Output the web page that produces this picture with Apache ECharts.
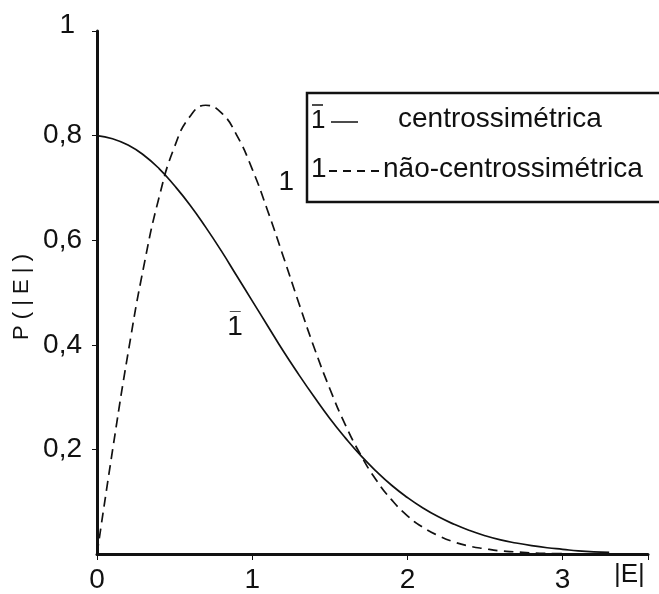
<!DOCTYPE html>
<html>
<head>
<meta charset="utf-8">
<script src="https://cdn.jsdelivr.net/npm/echarts@6/dist/echarts.min.js"></script>
<style>
  html, body { margin: 0; padding: 0; background: #fff; }
  #chart { width: 659px; height: 594px; }
</style>
</head>
<body>
<div id="chart"></div>
<script>
// |E| values sampled along the x axis
var eValues = [0, 0.1, 0.2, 0.3, 0.4, 0.5, 0.6, 0.7, 0.8, 0.9, 1.0, 1.1, 1.2, 1.3, 1.4, 1.5, 1.6, 1.7,
  1.8, 1.9, 2.0, 2.1, 2.2, 2.3, 2.4, 2.5, 2.6, 2.7, 2.8, 2.9, 3.0, 3.1, 3.2, 3.3];
// solid curve (1-bar, centrossimétrica)
var centro = [0.800, 0.794, 0.782, 0.763, 0.737, 0.704, 0.667, 0.625, 0.580, 0.532, 0.484, 0.436, 0.388,
  0.343, 0.300, 0.259, 0.222, 0.188, 0.158, 0.131, 0.108, 0.088, 0.071, 0.057, 0.045, 0.035, 0.027,
  0.021, 0.016, 0.012, 0.009, 0.006, 0.004, 0.003];
// dashed curve (1, não-centrossimétrica)
var acentric = [0, 0.198, 0.384, 0.548, 0.682, 0.779, 0.837, 0.858, 0.844, 0.801, 0.736, 0.656, 0.569,
  0.480, 0.394, 0.316, 0.247, 0.189, 0.141, 0.103, 0.073, 0.051, 0.035, 0.023, 0.015, 0.010, 0.006,
  0.004, 0.002, 0.001, 0.0007];
var xTicks = [0, 1, 2, 3];
var yTicks = [0.2, 0.4, 0.6, 0.8, 1];

var ink = '#111';
var font = '"Liberation Sans", Arial, sans-serif';

function pairs(xs, ys) {
  var out = [];
  for (var i = 0; i < ys.length; i++) out.push([xs[i], ys[i]]);
  return out;
}

// "1" with a bar over it, as rich text
var barOne = {
  bar: { fontSize: 11, fontFamily: font, color: ink, lineHeight: 6, align: 'center' },
  num: { fontSize: 28, fontFamily: font, color: ink, lineHeight: 26, align: 'center' }
};

var chart = echarts.init(document.getElementById('chart'), null, { renderer: 'canvas' });

chart.setOption({
  animation: false,
  backgroundColor: '#fff',
  grid: { left: 97, right: 11, top: 31, bottom: 36 },
  xAxis: {
    type: 'value',
    min: 0,
    max: 3.55,
    interval: 1,
    axisLine: { lineStyle: { color: ink, width: 3 } },
    axisTick: { length: 6, lineStyle: { color: ink, width: 1 } },
    splitLine: { show: false },
    axisLabel: {
      color: ink, fontSize: 28, fontFamily: font, margin: 12,
      formatter: function(v) { return xTicks.indexOf(v) >= 0 ? String(v) : ''; }
    }
  },
  yAxis: {
    type: 'value',
    min: 0,
    max: 1,
    interval: 0.2,
    axisLine: { lineStyle: { color: ink, width: 3 } },
    axisTick: { length: 5, lineStyle: { color: ink, width: 1 } },
    splitLine: { show: false },
    axisLabel: {
      color: ink, fontSize: 28, fontFamily: font, margin: 15, showMinLabel: false,
      formatter: function(v) {
        var t = +v.toFixed(1);
        if (yTicks.indexOf(t) < 0) return '';
        if (t === 1) return '{top|1}';
        return String(t).replace('.', ',');
      },
      rich: { top: { fontSize: 28, fontFamily: font, color: ink, padding: [0, 7, 12, 0] } }
    }
  },
  series: [
    {
      name: 'centrossimétrica',
      type: 'line',
      smooth: true,
      showSymbol: false,
      data: pairs(eValues, centro),
      lineStyle: { color: ink, width: 1.7 },
      markPoint: {
        symbolSize: 0,
        label: { show: true, formatter: '{bar|\u2014}\n{num|1}', rich: barOne },
        data: [{ coord: [0.89, 0.44] }]
      }
    },
    {
      name: 'não-centrossimétrica',
      type: 'line',
      smooth: true,
      showSymbol: false,
      data: pairs(eValues, acentric),
      lineStyle: { color: ink, width: 1.7, type: [10, 6] },
      markPoint: {
        symbolSize: 0,
        label: { show: true, formatter: '1', color: ink, fontSize: 28, fontFamily: font },
        data: [{ coord: [1.22, 0.71] }]
      }
    }
  ],
  graphic: [
    // axis titles
    {
      type: 'text', x: 22, y: 297, rotation: Math.PI / 2,
      style: { text: 'P ( | E | )', fontSize: 22, fontFamily: font, fill: ink, align: 'center', verticalAlign: 'middle' }
    },
    {
      type: 'text', x: 614, y: 575,
      style: { text: '|E|', fontSize: 26, fontFamily: font, fill: ink, verticalAlign: 'middle' }
    },
    // legend box
    {
      type: 'rect', shape: { x: 307, y: 93, width: 360, height: 109 },
      style: { fill: '#fff', stroke: ink, lineWidth: 2.5 }
    },
    {
      type: 'text', x: 311, y: 121,
      style: { text: '1', fontSize: 26, fontFamily: font, fill: ink, verticalAlign: 'middle' }
    },
    {
      type: 'line', shape: { x1: 312, y1: 105, x2: 323, y2: 105 },
      style: { stroke: ink, lineWidth: 1.5 }
    },
    {
      type: 'line', shape: { x1: 331, y1: 122, x2: 358, y2: 122 },
      style: { stroke: ink, lineWidth: 1.5 }
    },
    {
      type: 'text', x: 398, y: 119,
      style: { text: 'centrossimétrica', fontSize: 28, fontFamily: font, fill: ink, verticalAlign: 'middle' }
    },
    {
      type: 'text', x: 311, y: 169,
      style: { text: '1', fontSize: 28, fontFamily: font, fill: ink, verticalAlign: 'middle' }
    },
    {
      type: 'line', shape: { x1: 329, y1: 171, x2: 380, y2: 171 },
      style: { stroke: ink, lineWidth: 2, lineDash: [8, 6] }
    },
    {
      type: 'text', x: 383, y: 169,
      style: { text: 'não-centrossimétrica', fontSize: 28, fontFamily: font, fill: ink, verticalAlign: 'middle' }
    }
  ]
});

window.addEventListener('resize', function() { chart.resize(); });
</script>
</body>
</html>
